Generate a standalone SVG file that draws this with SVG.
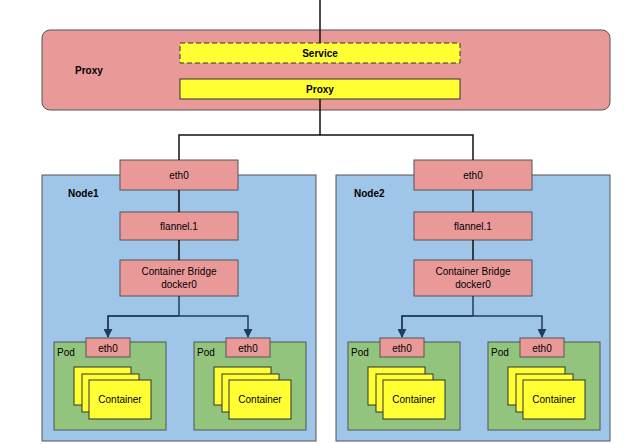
<svg xmlns="http://www.w3.org/2000/svg" width="640" height="444" viewBox="0 0 640 444">
<defs>
<style>
text{font-family:"Liberation Sans",Arial,sans-serif;font-size:10px;fill:#000}
.b{font-weight:bold}
.red{fill:#ea9999;stroke:#555;stroke-width:1}
.node{fill:#9fc5e8;stroke:#555;stroke-width:1}
.pod{fill:#93c47d;stroke:#555;stroke-width:1}
.ctr{fill:#ffff33;stroke:#333;stroke-width:1}
.ln{fill:none;stroke:#111;stroke-width:1.5}
.ar{fill:none;stroke:#1f3e5f;stroke-width:1.5}
</style>
<marker id="ah" viewBox="0 0 10 10" refX="9" refY="5" markerWidth="6" markerHeight="6" orient="auto"><path d="M0,0L10,5L0,10z" fill="#1f3e5f"/></marker>
<g id="pod">
<rect class="pod" x="0" y="0" width="112" height="88"/>
<text x="3" y="14">Pod</text>
<rect class="red" x="32" y="-4" width="44" height="19"/>
<text x="54" y="10" text-anchor="middle">eth0</text>
<rect class="ctr" x="20" y="25" width="57" height="38"/>
<rect class="ctr" x="28" y="32" width="57" height="38"/>
<rect class="ctr" x="35" y="38" width="62" height="39"/>
<text x="66" y="61" text-anchor="middle">Container</text>
</g>
<g id="nodebody">
<rect class="red" x="78" y="-15" width="118" height="30"/>
<text x="137" y="4" text-anchor="middle">eth0</text>
<rect class="red" x="78" y="37" width="118" height="28"/>
<text x="137" y="55" text-anchor="middle">flannel.1</text>
<rect class="red" x="78" y="85" width="118" height="36"/>
<text x="137" y="100" text-anchor="middle">Container Bridge</text>
<text x="137" y="113" text-anchor="middle">docker0</text>
</g>
</defs>
<rect width="640" height="444" fill="#fff"/>
<g id="proxy">
<rect x="42" y="30" width="568" height="80" rx="8" fill="#ea9999" stroke="#555"/>
<text class="b" x="75" y="74">Proxy</text>
</g>
<g id="service">
<rect x="180" y="43" width="280" height="20" fill="#ffff33" stroke="#333" stroke-dasharray="5,3"/>
<text class="b" x="320" y="57" text-anchor="middle">Service</text>
</g>
<g id="proxyinner">
<rect x="180" y="79" width="280" height="20" fill="#ffff33" stroke="#333"/>
<text class="b" x="320" y="93" text-anchor="middle">Proxy</text>
</g>
<g id="node1">
<rect class="node" x="42" y="175" width="274" height="266"/>
<text class="b" x="68" y="197">Node1</text>
<use href="#nodebody" x="42" y="175"/>
<use href="#pod" x="54" y="342"/>
<use href="#pod" x="194" y="342"/>
</g>
<g id="node2">
<rect class="node" x="336" y="175" width="274" height="266"/>
<text class="b" x="354" y="197">Node2</text>
<use href="#nodebody" x="336" y="175"/>
<use href="#pod" x="348" y="342"/>
<use href="#pod" x="488" y="342"/>
</g>
<g id="connectors">
<path class="ln" d="M320,0V43"/>
<path class="ln" d="M320,99V135M179,160V135H473V160"/>
<path class="ln" d="M179,190V212M179,240V260M473,190V212M473,240V260"/>
<path class="ar" d="M179,296V316H108V337M179,316H248V337" marker-end="url(#ah)"/>
<path class="ar" d="M179,316H108V337" marker-end="url(#ah)"/>
<path class="ar" d="M473,296V316H402V337M473,316H542V337" marker-end="url(#ah)"/>
<path class="ar" d="M473,316H402V337" marker-end="url(#ah)"/>
</g>
</svg>
